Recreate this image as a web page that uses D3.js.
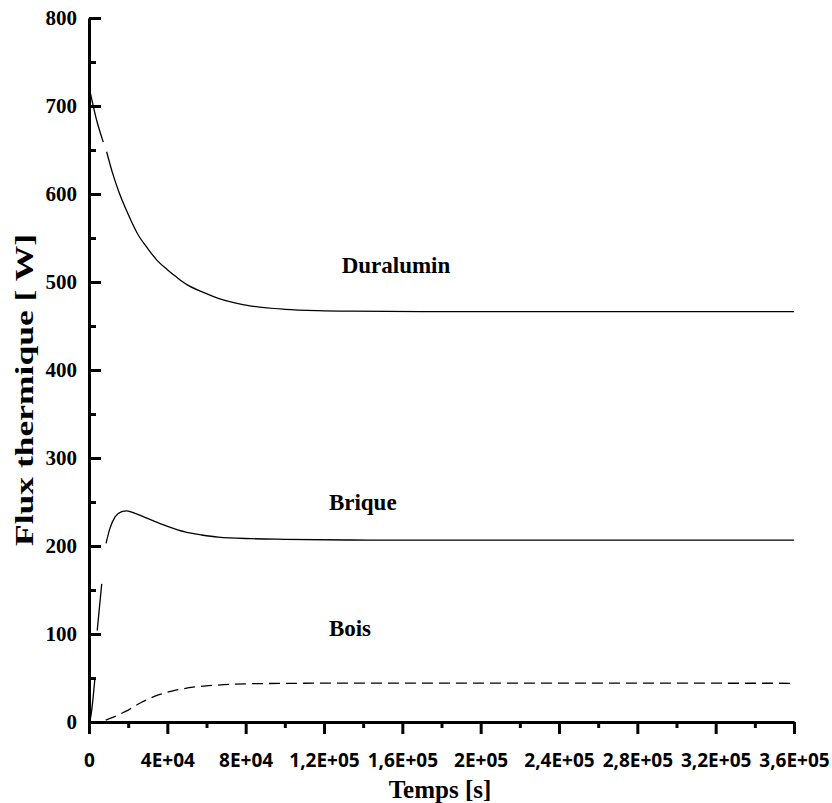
<!DOCTYPE html>
<html>
<head>
<meta charset="utf-8">
<script src="https://cdn.jsdelivr.net/npm/d3@7"></script>
<style>
  body { margin: 0; background: #fff; }
</style>
</head>
<body>
<script>
// temps [s] et flux [W] (null = coupure du trait)
const duraT = [0, 4000, 7300, 8200, 9000, 12000, 15000, 20000, 25000, 30000, 35000, 40000, 45000, 50000, 57500, 66000, 75000, 83000, 100000, 117000, 134000, 170000, 220000, 360000];
const duraV = [722, 683, 659, null, 648, 624, 604, 577, 554, 538, 524, 514, 505, 497, 489, 481.5, 476, 472.7, 469, 467.4, 466.8, 466.4, 466.3, 466.3];

const briqueT = [0, 500, 3000, 3600, 4200, 6500, 7500, 8700, 10700, 13300, 16700, 19300, 23500, 32000, 40500, 49000, 57500, 66000, 83000, 100000, 134000, 200000, 360000];
const briqueV = [0, 2, 49, null, 104, 157, null, 203, 220, 233, 239, 240, 237, 229.5, 222, 216, 212.5, 210, 208.3, 207.6, 206.8, 206.6, 206.6];

const boisT = [0, 4700, 10700, 18400, 26900, 35400, 44800, 54100, 66000, 83000, 100000, 134000, 200000, 360000];
const boisV = [0, 0, 4, 11.7, 22.4, 30.7, 36.4, 39.8, 42, 43.5, 43.9, 44.2, 44.2, 44];

const xMajor = [0, 40000, 80000, 120000, 160000, 200000, 240000, 280000, 320000, 360000];
const xMinor = [20000, 60000, 100000, 140000, 180000, 220000, 260000, 300000, 340000];
const xLabels = ["0", "4E+04", "8E+04", "1,2E+05", "1,6E+05", "2E+05", "2,4E+05", "2,8E+05", "3,2E+05", "3,6E+05"];
const yMajor = [0, 100, 200, 300, 400, 500, 600, 700, 800];
const yMinor = [50, 150, 250, 350, 450, 550, 650, 750];

const curveNames = ["Duralumin", "Brique", "Bois"];
const curveLabelAt = [[129000, 510], [122500, 241], [122500, 98]];

function main(){
const margin = {top: 18, left: 89},
    width = 705,
    height = 704;

const svg = d3.select("body").append("svg")
    .attr("width", 832)
    .attr("height", 803);

const g = svg.append("g")
    .attr("transform", `translate(${margin.left},${margin.top})`);

const x = d3.scaleLinear().domain([0, 360000]).range([0, width]);
const y = d3.scaleLinear().domain([0, 800]).range([height, 0]);

// axe X : petites graduations puis grandes avec libellés
g.append("g")
    .attr("transform", `translate(0,${height})`)
    .call(d3.axisBottom(x).tickValues(xMinor).tickSize(6).tickFormat(""))
    .call(a => a.select(".domain").remove())
    .selectAll("line").attr("stroke-width", 3);

const xAxis = g.append("g")
    .attr("transform", `translate(0,${height})`)
    .call(d3.axisBottom(x).tickValues(xMajor).tickSizeInner(12).tickSizeOuter(0)
      .tickFormat((d, i) => xLabels[i]));
xAxis.select(".domain").attr("stroke-width", 3);
xAxis.selectAll("line").attr("stroke-width", 3);
xAxis.selectAll("text")
    .attr("y", 45).attr("dy", 0)
    .attr("font-family", "'Open Sans', sans-serif")
    .attr("font-weight", "bold")
    .attr("font-size", "19px")
    .attr("fill", "#000");

// axe Y, graduations vers l'intérieur
g.append("g")
    .call(d3.axisLeft(y).tickValues(yMinor).tickSize(-7).tickFormat(""))
    .call(a => a.select(".domain").remove())
    .selectAll("line").attr("stroke-width", 3);

const yAxis = g.append("g")
    .call(d3.axisLeft(y).tickValues(yMajor).tickSizeInner(-12).tickSizeOuter(0).tickPadding(12));
yAxis.select(".domain").attr("stroke-width", 3);
yAxis.selectAll("line").attr("stroke-width", 3);
yAxis.selectAll("text")
    .attr("font-family", "'Liberation Serif', 'Times New Roman', serif")
    .attr("font-weight", "bold")
    .attr("font-size", "21px")
    .attr("fill", "#000");

// titres des axes
svg.append("text")
    .attr("x", 440).attr("y", 798)
    .attr("text-anchor", "middle")
    .attr("font-family", "'Liberation Serif', 'Times New Roman', serif")
    .attr("font-weight", "bold")
    .attr("font-size", "25px")
    .text("Temps [s]");

svg.append("text")
    .attr("transform", "translate(33,390) rotate(-90)")
    .attr("text-anchor", "middle")
    .attr("font-family", "'Liberation Serif', 'Times New Roman', serif")
    .attr("font-weight", "bold")
    .attr("font-size", "25px")
    .attr("textLength", 312)
    .attr("lengthAdjust", "spacingAndGlyphs")
    .text("Flux thermique [ W]");

// courbes
const line = d3.line()
    .defined(d => d[1] != null)
    .x(d => x(d[0]))
    .y(d => y(d[1]))
    .curve(d3.curveMonotoneX);

const series = [
  {t: duraT, v: duraV, dash: null},
  {t: briqueT, v: briqueV, dash: null},
  {t: boisT, v: boisV, dash: "11,6"}
];

series.forEach(s => {
  g.append("path")
      .datum(s.t.map((t, i) => [t, s.v[i]]))
      .attr("fill", "none")
      .attr("stroke", "#000")
      .attr("stroke-width", 1.3)
      .attr("stroke-dasharray", s.dash)
      .attr("d", line);
});

// étiquettes des courbes
g.selectAll(".lbl")
    .data(curveNames)
    .join("text")
    .attr("class", "lbl")
    .attr("x", (d, i) => x(curveLabelAt[i][0]))
    .attr("y", (d, i) => y(curveLabelAt[i][1]))
    .attr("font-family", "'Liberation Serif', 'Times New Roman', serif")
    .attr("font-weight", "bold")
    .attr("font-size", "23px")
    .text(d => d);
}

main();
</script>
</body>
</html>
